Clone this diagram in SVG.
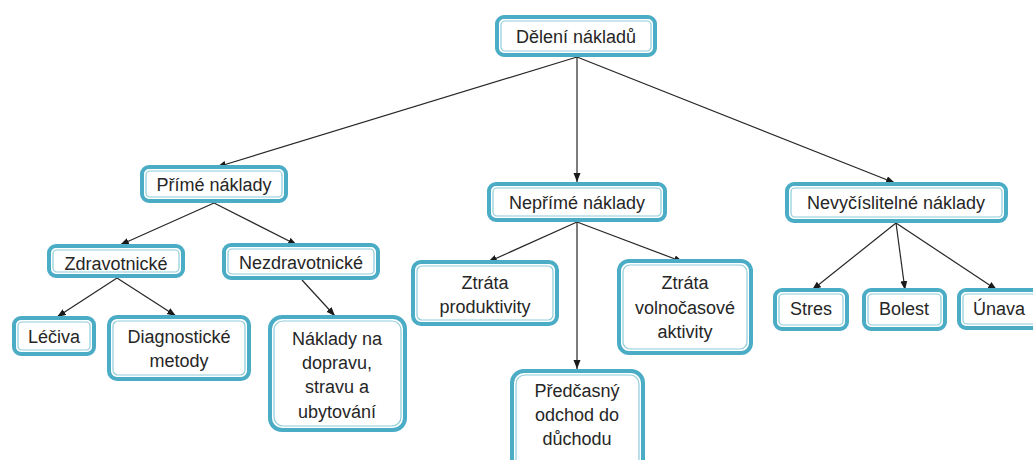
<svg xmlns="http://www.w3.org/2000/svg" width="1033" height="460" viewBox="0 0 1033 460">
<style>
.o{fill:#fff;stroke:#4BACC6;stroke-width:4}
.i{fill:none;stroke:#8FCBDA;stroke-width:1.2}
text{font-family:"Liberation Sans",Arial,sans-serif;font-size:18px;fill:#262626;text-anchor:middle}
.c line{stroke:#262626;stroke-width:1.2;marker-end:url(#a)}
</style>
<defs>
<marker id="a" markerUnits="userSpaceOnUse" markerWidth="10" markerHeight="8" refX="9" refY="3.5" orient="auto"><path d="M0,0 L9,3.5 L0,7 z" fill="#1a1a1a"/></marker>
</defs>
<rect width="1033" height="460" fill="#fff"/>
<g class="c" id="connectors">
<line x1="577" y1="57" x2="217" y2="167"/>
<line x1="577" y1="57" x2="577" y2="182"/>
<line x1="577" y1="57" x2="895" y2="183"/>
<line x1="214" y1="203" x2="120" y2="245"/>
<line x1="214" y1="203" x2="297" y2="245"/>
<line x1="117" y1="278" x2="57" y2="317"/>
<line x1="117" y1="278" x2="176" y2="316"/>
<line x1="302" y1="280" x2="335" y2="316"/>
<line x1="577" y1="222" x2="488" y2="262"/>
<line x1="577" y1="222" x2="577" y2="369"/>
<line x1="577" y1="222" x2="683" y2="262"/>
<line x1="896" y1="223" x2="812" y2="290"/>
<line x1="896" y1="223" x2="905" y2="290"/>
<line x1="896" y1="223" x2="997" y2="290"/>
</g>
<g id="n1"><rect class="o" x="497" y="17" width="158" height="38" rx="7"/><rect class="i" x="501" y="21" width="150" height="30" rx="4"/><text x="576" y="43">Dělení nákladů</text></g>
<g id="n2"><rect class="o" x="142" y="167" width="144" height="34" rx="7"/><rect class="i" x="146" y="171" width="136" height="26" rx="4"/><text x="214" y="191">Přímé náklady</text></g>
<g id="n3"><rect class="o" x="49" y="246" width="134" height="30" rx="7"/><rect class="i" x="53" y="250" width="126" height="22" rx="4"/><text x="116" y="270">Zdravotnické</text></g>
<g id="n4"><rect class="o" x="224" y="245" width="154" height="33" rx="7"/><rect class="i" x="228" y="249" width="146" height="25" rx="4"/><text x="301" y="269">Nezdravotnické</text></g>
<g id="n5"><rect class="o" x="14" y="318" width="80" height="36" rx="7"/><rect class="i" x="18" y="322" width="72" height="28" rx="4"/><text x="54" y="343">Léčiva</text></g>
<g id="n6"><rect class="o" x="109" y="317" width="140" height="62" rx="8"/><rect class="i" x="113" y="321" width="132" height="54" rx="5"/><text x="179" y="343">Diagnostické</text><text x="179" y="367">metody</text></g>
<g id="n7"><rect class="o" x="270" y="317" width="135" height="113" rx="12"/><rect class="i" x="274" y="321" width="127" height="105" rx="9"/><text x="337" y="345">Náklady na</text><text x="337" y="369">dopravu,</text><text x="337" y="393">stravu a</text><text x="337" y="418">ubytování</text></g>
<g id="n8"><rect class="o" x="489" y="184" width="176" height="36" rx="7"/><rect class="i" x="493" y="188" width="168" height="28" rx="4"/><text x="577" y="209">Nepřímé náklady</text></g>
<g id="n9"><rect class="o" x="413" y="262" width="144" height="62" rx="8"/><rect class="i" x="417" y="266" width="136" height="54" rx="5"/><text x="485" y="289">Ztráta</text><text x="485" y="313">produktivity</text></g>
<g id="n10"><rect class="o" x="619" y="261" width="132" height="92" rx="10"/><rect class="i" x="623" y="265" width="124" height="84" rx="7"/><text x="685" y="289">Ztráta</text><text x="685" y="314">volnočasové</text><text x="685" y="338">aktivity</text></g>
<g id="n11"><rect class="o" x="512" y="371" width="131" height="100" rx="12"/><rect class="i" x="516" y="375" width="123" height="92" rx="9"/><text x="577" y="397">Předčasný</text><text x="577" y="421">odchod do</text><text x="577" y="445">důchodu</text></g>
<g id="n12"><rect class="o" x="787" y="184" width="219" height="37" rx="7"/><rect class="i" x="791" y="188" width="211" height="29" rx="4"/><text x="896" y="209">Nevyčíslitelné náklady</text></g>
<g id="n13"><rect class="o" x="775" y="290" width="72" height="39" rx="7"/><rect class="i" x="779" y="294" width="64" height="31" rx="4"/><text x="811" y="315">Stres</text></g>
<g id="n14"><rect class="o" x="864" y="290" width="81" height="39" rx="7"/><rect class="i" x="868" y="294" width="73" height="31" rx="4"/><text x="904" y="315">Bolest</text></g>
<g id="n15"><rect class="o" x="959" y="290" width="90" height="38" rx="7"/><rect class="i" x="963" y="294" width="82" height="30" rx="4"/><text x="999" y="315">Únava</text></g>
</svg>
